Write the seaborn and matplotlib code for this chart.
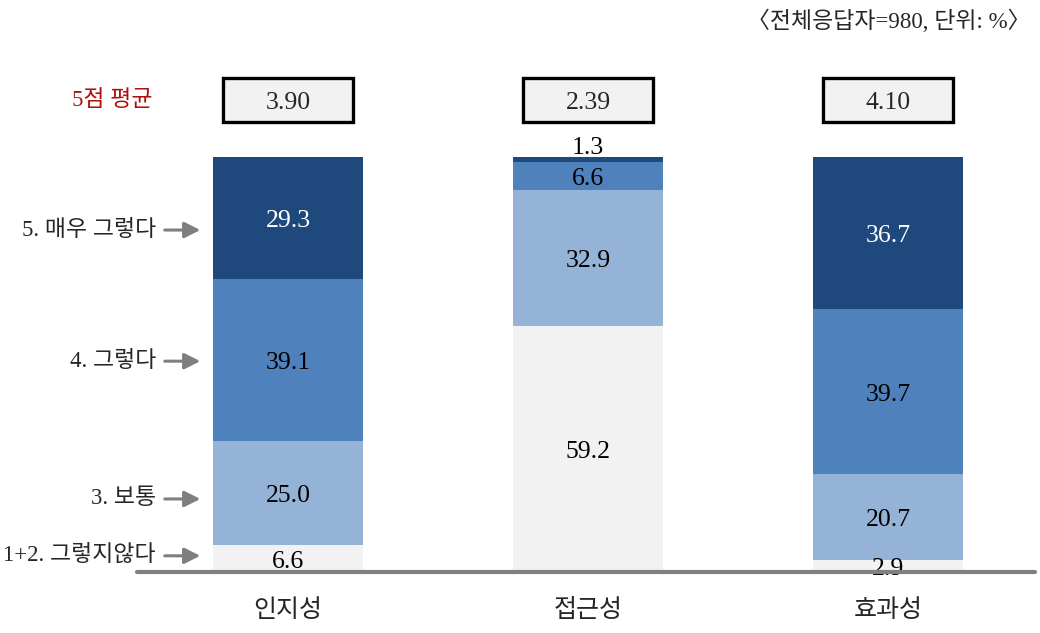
import numpy as np
import pandas as pd
import matplotlib
matplotlib.use("Agg")
import matplotlib.pyplot as plt
from matplotlib.patches import Rectangle
import seaborn as sns

# ---- data ----
items = ["인지성", "접근성", "효과성"]
levels = ["1+2. 그렇지않다", "3. 보통", "4. 그렇다", "5. 매우 그렇다"]
v_low = [6.6, 59.2, 2.9]      # 1+2. 그렇지않다
v_mid = [25.0, 32.9, 20.7]    # 3. 보통
v_agree = [39.1, 6.6, 39.7]   # 4. 그렇다
v_top = [29.3, 1.3, 36.7]     # 5. 매우 그렇다
means = ["3.90", "2.39", "4.10"]
mean_title = "5점 평균"
note = "〈전체응답자=980, 단위: %〉"

colors = ["#F2F2F2", "#95B3D7", "#4F81BD", "#1F497D"]
text_colors = ["black", "black", "black", "white"]

sns.set_theme(style="white")
FONT = ["Liberation Serif", "Noto Sans CJK KR"]
plt.rcParams["font.family"] = FONT

vals = np.array([v_low, v_mid, v_agree, v_top])  # levels x items
cum = np.cumsum(vals, axis=0)

rows = []
for li, lv in enumerate(levels):
    for ii, it in enumerate(items):
        rows.append({"item": it, "level": lv, "value": vals[li, ii], "cum": cum[li, ii]})
df = pd.DataFrame(rows)

fig = plt.figure(figsize=(10.40, 6.33), dpi=100)
ax = fig.add_axes([0, 0, 1, 1])

# stacked bars: draw cumulative totals from the top level down
for li in range(len(levels) - 1, -1, -1):
    sub = df[df["level"] == levels[li]]
    sns.barplot(data=sub, x="item", y="cum", order=items, color=colors[li],
                width=0.5, errorbar=None, ax=ax, saturation=1, linewidth=0)

# segment labels
dy = -0.8
for li in range(len(levels)):
    for ii in range(len(items)):
        v = vals[li, ii]
        top = cum[li, ii]
        if v < 2 and li == len(levels) - 1:
            y = top + 2.9
            c = "black"
        else:
            y = top - v / 2
            c = text_colors[li]
        ax.text(ii, y + dy, f"{v:.1f}", ha="center", va="center", fontsize=18.5, color=c)

# mean boxes
box_w, box_h, box_y = 0.433, 10.6, 113.7
for ii, m in enumerate(means):
    ax.add_patch(Rectangle((ii - box_w / 2, box_y - box_h / 2), box_w, box_h,
                           facecolor="#F2F2F2", edgecolor="black", linewidth=2.4, zorder=3))
    ax.text(ii, box_y + dy, m, ha="center", va="center", fontsize=18.5, zorder=4)
ax.text(-0.587, box_y, mean_title, ha="center", va="center", fontsize=16.5, color="#B01010")

# left level labels with arrows
label_y = [3.9, 17.6, 50.8, 82.4]
for lv, y in zip(levels, label_y):
    ax.text(-0.44, y, lv, ha="right", va="center", fontsize=16.5)
    ax.annotate("", xy=(-0.283, y), xytext=(-0.42, y),
                arrowprops=dict(arrowstyle="-|>", color="#7F7F7F", lw=2.2, mutation_scale=24))

# category labels
for ii, it in enumerate(items):
    ax.text(ii, -9.2, it, ha="center", va="center", fontsize=18)

# note
ax.text(2.475, 132.6, note, ha="right", va="center", fontsize=16.5)

# baseline
ax.axhline(0, xmin=137 / 1040, xmax=1035 / 1040, color="#808080", linewidth=3, zorder=5)

ax.set_xlim(-0.96, 2.5067)
ax.set_ylim(-14.70, 137.83)
ax.axis("off")

fig.savefig("out.png", dpi=100)
